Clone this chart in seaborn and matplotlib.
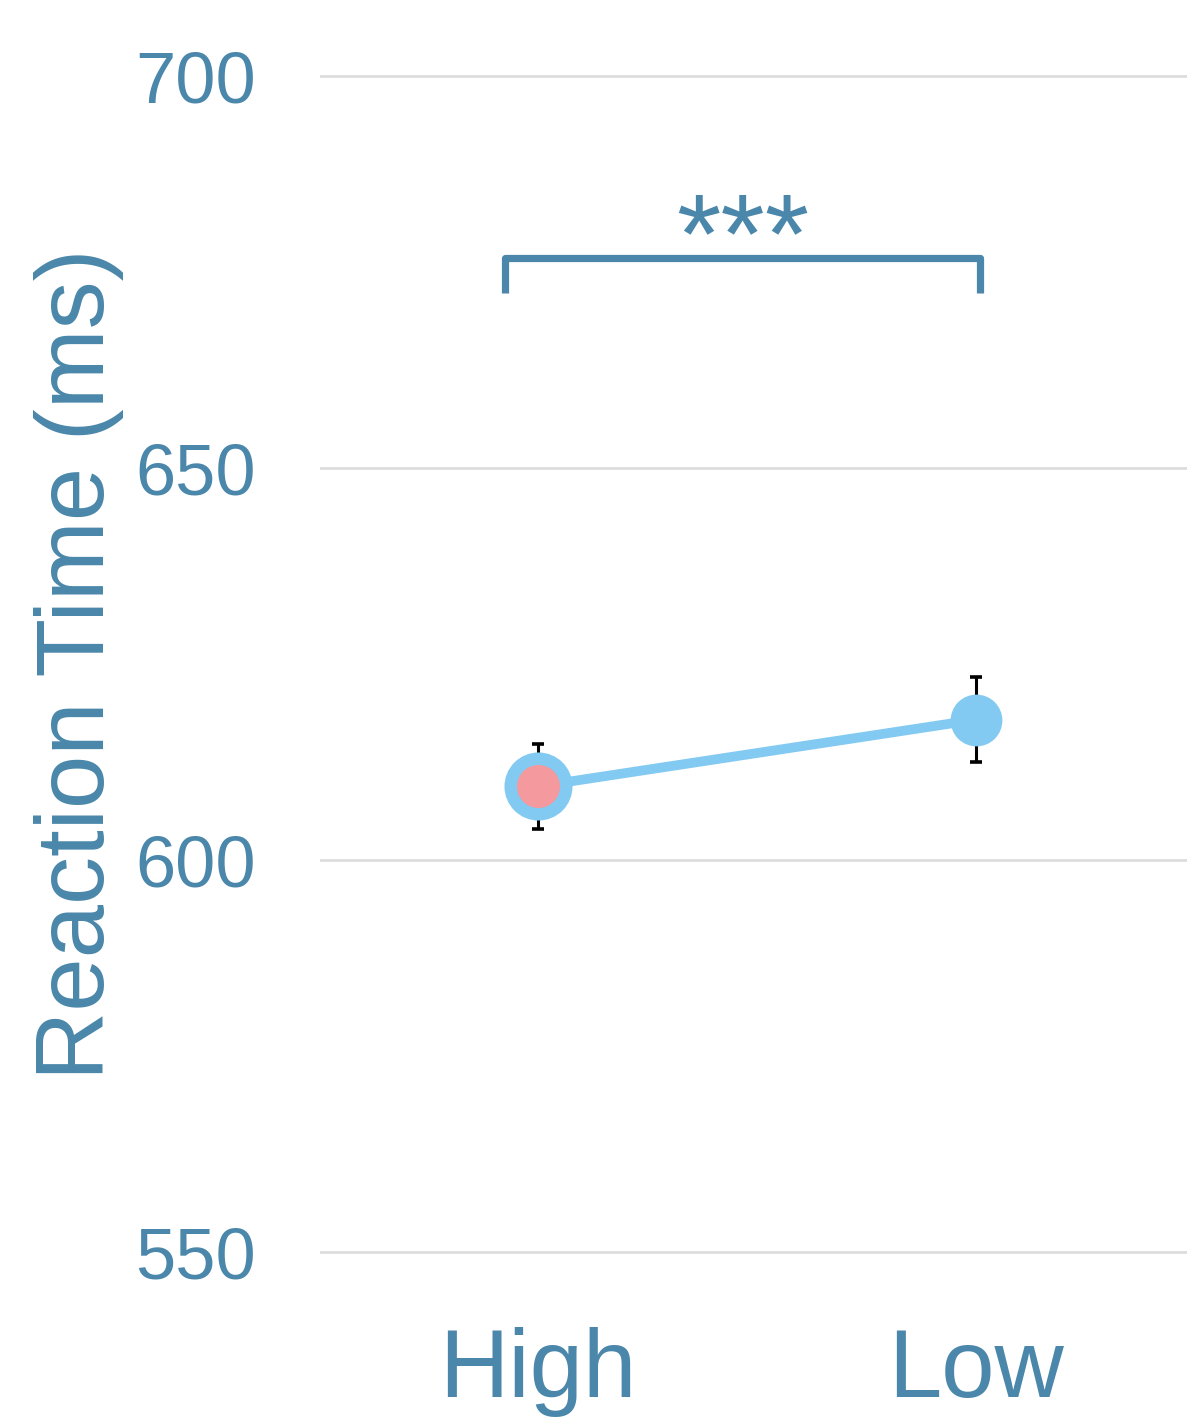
import matplotlib
matplotlib.use("Agg")
import matplotlib.pyplot as plt
import seaborn as sns
import pandas as pd

# Mean reaction times per condition with standard errors
conditions = ["High", "Low"]
mean_rt = [609.4, 617.9]
sem_rt = [5.4, 5.4]
highlight = ["High"]          # condition drawn with a pink centre
sig_label = "***"
bracket_y = 676.8
bracket_leg = 672.3
yticks = [550, 600, 650, 700]

text_col = "#4A87AA"
line_col = "#82CAF2"
pink = "#F4999D"

sns.set_theme(style="whitegrid")
plt.rcParams["font.family"] = ["Liberation Sans", "DejaVu Sans"]

df = pd.DataFrame({"condition": conditions, "rt": mean_rt})

fig = plt.figure(figsize=(11.87, 14.18), dpi=100)
ax = fig.add_axes([0.2696, 0.0894, 0.7304, 0.8846])

sns.pointplot(data=df, x="condition", y="rt", order=conditions,
              errorbar=None, color=line_col, markers="o", linestyles="-",
              markersize=32, linewidth=7, ax=ax, zorder=3)

# error bars drawn beneath the markers
xpos = [conditions.index(c) for c in conditions]
ax.errorbar(xpos, mean_rt, yerr=sem_rt, fmt="none", ecolor="black",
            elinewidth=2.2, capsize=4, capthick=2.6, zorder=2)

# highlighted condition: larger ring with pink centre
for c in highlight:
    i = conditions.index(c)
    ax.plot([i], [mean_rt[i]], marker="o", markersize=49, color=line_col,
            markeredgewidth=0, zorder=4)
    ax.plot([i], [mean_rt[i]], marker="o", markersize=31, color=pink,
            markeredgewidth=0, zorder=5)

# significance bracket
bx0, bx1 = -0.075, 1.009
ax.plot([bx0, bx0, bx1, bx1], [bracket_leg, bracket_y, bracket_y, bracket_leg],
        color=text_col, linewidth=5.2, solid_joinstyle="round",
        solid_capstyle="butt", zorder=3)
ax.text((bx0 + bx1) / 2, bracket_y - 4.9, sig_label, ha="center", va="bottom",
        fontsize=82, color=text_col)

ax.set_xlim(-0.498, 1.482)
ax.set_ylim(545, 705)
ax.set_yticks(yticks)
ax.set_xlabel("")
ax.set_ylabel("Reaction Time (ms)", fontsize=69, color=text_col, labelpad=8)

ax.grid(axis="y", color="#DDDDDD", linewidth=2.0)
ax.grid(axis="x", visible=False)
ax.set_axisbelow(True)
for s in ax.spines.values():
    s.set_visible(False)
ax.tick_params(axis="y", labelsize=52, colors=text_col, length=0, pad=46)
ax.tick_params(axis="x", labelsize=69, colors=text_col, length=0, pad=26)

fig.savefig("out.png", dpi=100, facecolor="white")
